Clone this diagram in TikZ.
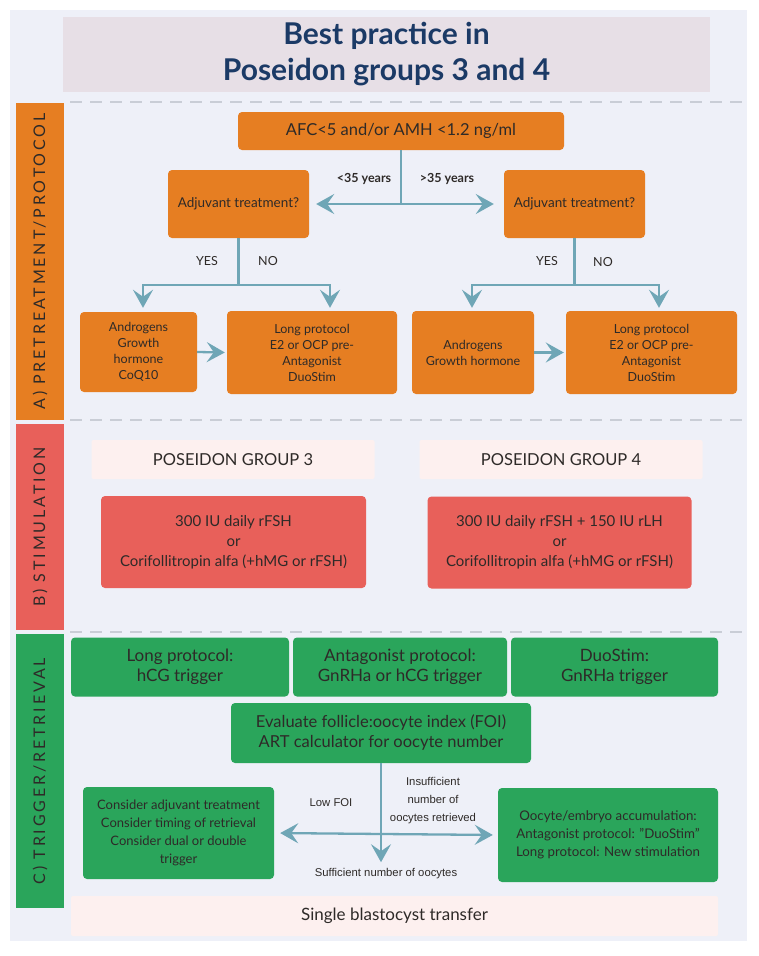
\documentclass[tikz,border=0pt]{standalone}
\usepackage{fontspec}
\setmainfont{Lato}
\newfontfamily\arialfont{Liberation Sans}
\usetikzlibrary{arrows.meta}

\definecolor{panelbg}{HTML}{EEF0F8}
\definecolor{titlebg}{HTML}{E7DFE6}
\definecolor{titletext}{HTML}{1B3A66}
\definecolor{orangebox}{HTML}{E67E22}
\definecolor{redbox}{HTML}{E8605A}
\definecolor{greenbox}{HTML}{2AA55B}
\definecolor{pinkbox}{HTML}{FDF0EF}
\definecolor{arrowblue}{HTML}{6FA6B6}
\definecolor{dashgrey}{HTML}{C9CDD6}
\definecolor{boxtext}{HTML}{2E2A28}

\begin{document}
\begin{tikzpicture}[x=1pt,y=-1pt,
	box/.style={rounded corners=4pt, inner sep=0pt, align=center, text=boxtext},
	obox/.style={box, fill=orangebox},
	rbox/.style={box, fill=redbox, font=\fontsize{15}{20}\selectfont},
	gbox/.style={box, fill=greenbox},
	pbox/.style={box, fill=pinkbox, rounded corners=2pt, font=\fontsize{16.5}{18}\selectfont},
	sidebar/.style={inner sep=0pt, rotate=90, text=boxtext, font=\fontsize{16}{16}\selectfont\addfontfeature{LetterSpace=18}},
	arr/.style={draw=arrowblue, line width=2.3pt, -{Stealth[length=18pt,width=20pt,inset=7pt]}},
	sepline/.style={draw=dashgrey, line width=1.5pt, dash pattern=on 12pt off 8pt},
	lbl/.style={text=boxtext, font=\fontsize{12.5}{14}\selectfont},
	small/.style={text=boxtext, align=center, font=\arialfont\fontsize{11.3}{18}\selectfont}
	]
	\useasboundingbox (0,0) rectangle (758,956);
	\fill[panelbg] (10,10) rectangle (747,941);
	
	\node[box, fill=titlebg, rounded corners=0pt, minimum width=647pt, minimum height=75pt, text=titletext, font=\fontsize{30}{36}\selectfont\bfseries] (title) at (386.5,54.5) {Best practice in\\Poseidon groups 3 and 4};
	
	% section bars
	\node[sidebar, fill=orangebox, minimum width=317pt, minimum height=48pt] (secA) at (40,261.5) {A)\ PRETREATMENT/PROTOCOL};
	\node[sidebar, fill=redbox, minimum width=206pt, minimum height=48pt] (secB) at (40,527) {B)\ STIMULATION};
	\node[sidebar, fill=greenbox, minimum width=274pt, minimum height=48pt] (secC) at (40,771) {C)\ TRIGGER/RETRIEVAL};
	
	\draw[sepline] (70,102) -- (742,102);
	\draw[sepline] (70,420) -- (742,420);
	\draw[sepline] (70,632) -- (742,632);
	
	% A) pretreatment
	\node[obox, minimum width=326pt, minimum height=38pt, font=\fontsize{16.5}{18}\selectfont] (afc) at (401,131) {AFC<5 and/or AMH <1.2 ng/ml};
	\node[obox, minimum width=141pt, minimum height=68pt, font=\fontsize{13.5}{15}\selectfont] (adjL) at (238.5,204) {Adjuvant treatment?};
	\node[obox, minimum width=141pt, minimum height=68pt, font=\fontsize{13.5}{15}\selectfont] (adjR) at (574.5,204) {Adjuvant treatment?};
	\node[obox, minimum width=117pt, minimum height=80pt, font=\fontsize{12.5}{16}\selectfont] (andL) at (138.5,352) {Androgens\\Growth\\hormone\\CoQ10};
	\node[obox, minimum width=170pt, minimum height=83pt, font=\fontsize{12.5}{16}\selectfont] (longL) at (312,352.5) {Long protocol\\E2 or OCP pre-\\Antagonist\\DuoStim};
	\node[obox, minimum width=122pt, minimum height=83pt, font=\fontsize{12.5}{16}\selectfont] (andR) at (473,352.5) {Androgens\\Growth hormone};
	\node[obox, minimum width=171pt, minimum height=83pt, font=\fontsize{12.5}{16}\selectfont] (longR) at (651.5,352.5) {Long protocol\\E2 or OCP pre-\\Antagonist\\DuoStim};
	
	\node[lbl, font=\fontsize{12.5}{14}\selectfont\bfseries] (youngL) at (364,179) {<35 years};
	\node[lbl, font=\fontsize{12.5}{14}\selectfont\bfseries] (oldR) at (447,179) {>35 years};
	\node[lbl] (yesL) at (207,261) {YES};
	\node[lbl] (noL) at (268,261) {NO};
	\node[lbl] (yesR) at (547,261) {YES};
	\node[lbl] (noR) at (603,262) {NO};
	
	\coordinate (forkLa) at (143,285);
	\coordinate (forkLb) at (330,285);
	\coordinate (forkRa) at (472,285);
	\coordinate (forkRb) at (659,285);
	
	\draw[arr, shorten >=7pt] (afc.south) |- (adjL.east);
	\draw[arr, shorten >=10pt] (afc.south) |- (adjR.west);
	\draw[arr, shorten >=4pt] (adjL.south) |- (forkLa) -- (forkLa |- andL.north);
	\draw[arr, shorten >=3pt] (adjL.south) |- (forkLb) -- (forkLb |- longL.north);
	\draw[arr, shorten >=3pt] (adjR.south) |- (forkRa) -- (forkRa |- andR.north);
	\draw[arr, shorten >=3pt] (adjR.south) |- (forkRb) -- (forkRb |- longR.north);
	\draw[arr, shorten >=2pt] (andL.east) -- (longL.west);
	\draw[arr, shorten >=2pt] (andR.east) -- (longR.west);
	
	% B) stimulation
	\node[pbox, minimum width=283pt, minimum height=39pt] (grp3) at (233,459.5) {POSEIDON GROUP 3};
	\node[pbox, minimum width=283pt, minimum height=39pt] (grp4) at (561,459.5) {POSEIDON GROUP 4};
	\node[rbox, minimum width=265pt, minimum height=92pt] (stim3) at (233.5,542) {300 IU daily rFSH\\or\\Corifollitropin alfa (+hMG or rFSH)};
	\node[rbox, minimum width=264pt, minimum height=92pt] (stim4) at (559.5,542.5) {300 IU daily rFSH + 150 IU rLH\\or\\Corifollitropin alfa (+hMG or rFSH)};
	
	% C) trigger/retrieval
	\node[gbox, minimum width=218pt, minimum height=59pt, font=\fontsize{17}{20}\selectfont] (trigLong) at (180,667) {Long protocol:\\hCG trigger};
	\node[gbox, minimum width=214pt, minimum height=59pt, font=\fontsize{17}{20}\selectfont] (trigAnt) at (400,667) {Antagonist protocol:\\GnRHa or hCG trigger};
	\node[gbox, minimum width=207pt, minimum height=59pt, font=\fontsize{17}{20}\selectfont] (trigDuo) at (614.5,667) {DuoStim:\\GnRHa trigger};
	\node[gbox, minimum width=300pt, minimum height=60pt, font=\fontsize{16.5}{20}\selectfont] (foi) at (381,733) {Evaluate follicle:oocyte index (FOI)\\ART calculator for oocyte number};
	\node[gbox, minimum width=191pt, minimum height=92pt, font=\fontsize{13}{18}\selectfont] (lowfoi) at (178.5,833) {Consider adjuvant treatment\\Consider timing of retrieval\\Consider dual or double\\trigger};
	\node[gbox, minimum width=220pt, minimum height=94pt, font=\fontsize{13.3}{18}\selectfont] (accum) at (608,835) {Oocyte/embryo accumulation:\\Antagonist protocol: "DuoStim"\\Long protocol: New stimulation};
	\node[pbox, minimum width=647pt, minimum height=40pt, font=\fontsize{17}{19}\selectfont] (blast) at (394.5,916) {Single blastocyst transfer};
	
	\node[small] (lowlbl) at (331,803) {Low FOI};
	\node[small] (insuff) at (433,801) {Insufficient\\number of\\oocytes retrieved};
	\node[small] (sufflbl) at (386,874) {Sufficient number of oocytes};
	
	\coordinate (cross) at (383,834);
	\draw[arr, shorten >=6pt] (cross) -- (lowfoi.east);
	\draw[arr, shorten >=5pt] (cross) -- (accum.west);
	\draw[arr, shorten >=3pt] (foi.south) -- (foi.south |- sufflbl.north);
\end{tikzpicture}
\end{document}
